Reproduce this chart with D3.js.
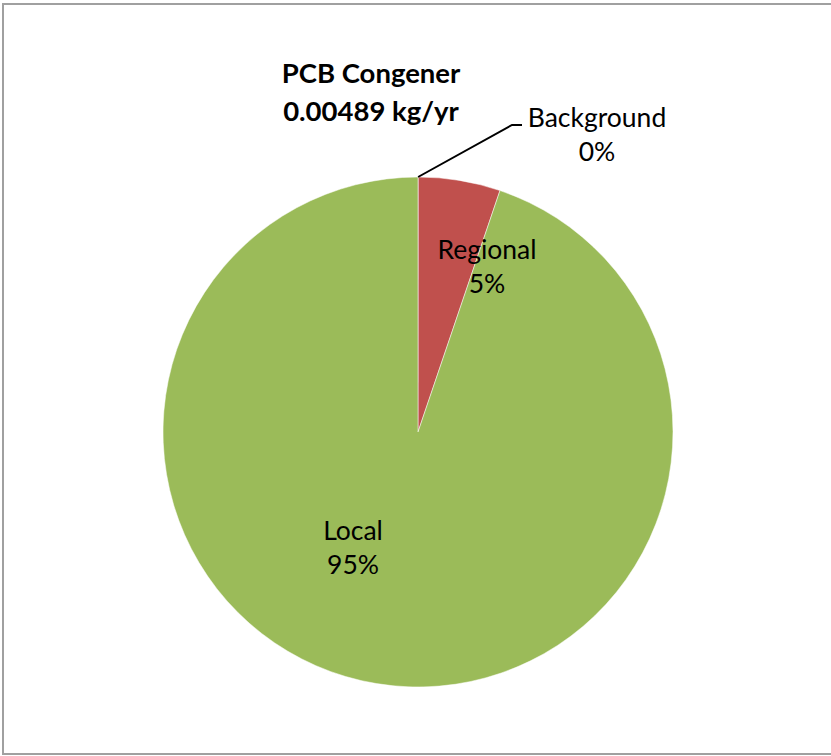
<!DOCTYPE html>
<html>
<head>
<meta charset="utf-8">
<script src="https://cdn.jsdelivr.net/npm/d3@7"></script>
<style>
  html, body { margin: 0; padding: 0; background: #fff; }
  svg { display: block; }
</style>
</head>
<body>
<svg id="chart" width="831" height="756"></svg>
<script>
// Source shares of the PCB congener load (percent)
const categories = ["Background", "Regional", "Local"];
const shares = [0.01, 5.2, 94.79];
const colors = ["#4F81BD", "#C0504D", "#9BBB59"];
const titleLines = ["PCB Congener", "0.00489 kg/yr"];

const svg = d3.select("#chart");
const W = 831, H = 756;
const font = "Lato, 'Open Sans', sans-serif";

// chart area frame
svg.append("rect")
  .attr("x", 3).attr("y", 4)
  .attr("width", W + 10).attr("height", 750)
  .attr("fill", "#fff")
  .attr("stroke", "#a0a0a0").attr("stroke-width", 2);

const cx = 418, cy = 432, r = 255;
const data = categories.map((c, i) => ({ name: c, value: shares[i], color: colors[i] }));

const pie = d3.pie().value(d => d.value).sort(null)
  .startAngle(0).endAngle(2 * Math.PI);
const arcs = pie(data);
const arc = d3.arc().innerRadius(0).outerRadius(r);

const g = svg.append("g").attr("transform", `translate(${cx},${cy})`);
g.selectAll("path.slice")
  .data(arcs)
  .join("path")
  .attr("class", "slice")
  .attr("d", arc)
  .attr("fill", d => d.data.color)
  .attr("stroke", "#fff")
  .attr("stroke-width", 0.5);

const total = d3.sum(shares);
const pct = v => Math.round(v / total * 100) + "%";

// label positions relative to the pie centre
const labelPos = {
  Background: { x: 179, y: -305 },
  Regional:   { x: 69,  y: -173 },
  Local:      { x: -65, y: 108 }
};
const lineGap = 34;

arcs.forEach(a => {
  const p = labelPos[a.data.name];
  const t = g.append("text")
    .attr("text-anchor", "middle")
    .attr("font-family", font)
    .attr("font-size", 26.5)
    .attr("fill", "#000");
  t.append("tspan").attr("x", p.x).attr("y", p.y).text(a.data.name);
  t.append("tspan").attr("x", p.x).attr("y", p.y + lineGap).text(pct(a.data.value));
});

// leader line for the thin Background slice
const bg = arcs[0];
const mid = (bg.startAngle + bg.endAngle) / 2;
const edge = [Math.sin(mid) * r, -Math.cos(mid) * r];
g.append("polyline")
  .attr("points", [edge, [94, -307], [104, -307]].map(p => p.join(",")).join(" "))
  .attr("fill", "none")
  .attr("stroke", "#000")
  .attr("stroke-width", 2);

// title
const title = svg.append("text")
  .attr("text-anchor", "middle")
  .attr("font-family", font)
  .attr("font-weight", "bold")
  .attr("font-size", 27.5)
  .attr("fill", "#000");
titleLines.forEach((s, i) => {
  title.append("tspan").attr("x", 371).attr("y", 83 + i * 38).text(s);
});
</script>
</body>
</html>
